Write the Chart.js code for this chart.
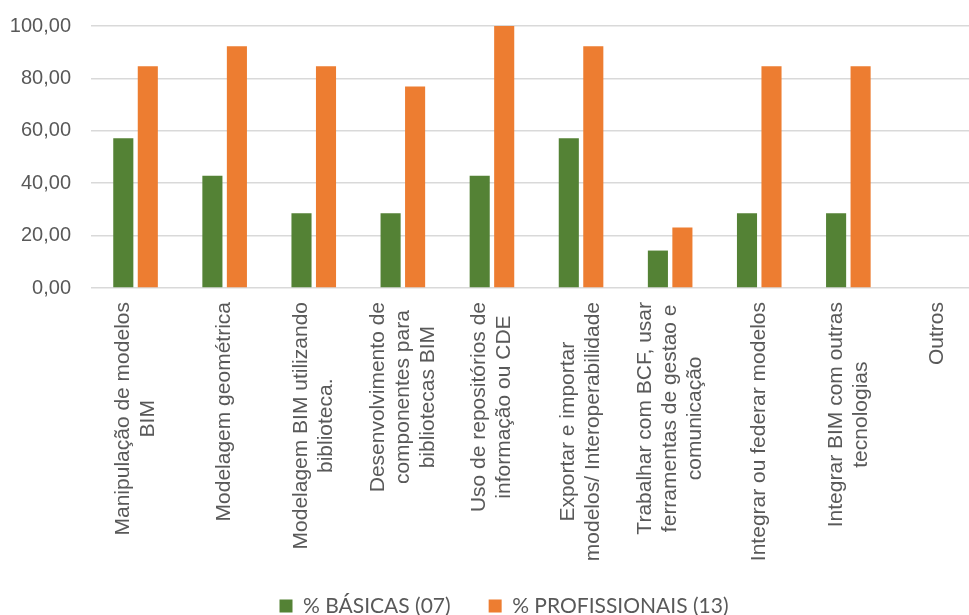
<!DOCTYPE html>
<html>
<head>
<meta charset="utf-8">
<script src="https://cdn.jsdelivr.net/npm/chart.js@4"></script>
<style>
  html, body { margin: 0; padding: 0; background: #fff; overflow: hidden; }
</style>
</head>
<body>
<canvas id="grafico" width="984" height="615"></canvas>
<script>
// competências BIM: cada rótulo quebrado em linhas
const categorias = [
    ['Manipulação de modelos', 'BIM'],
    ['Modelagem geométrica'],
    ['Modelagem BIM utilizando', 'biblioteca.'],
    ['Desenvolvimento de', 'componentes para', 'bibliotecas BIM'],
    ['Uso de repositórios de', 'informação ou CDE'],
    ['Exportar e importar', 'modelos/ Interoperabilidade'],
    ['Trabalhar com BCF, usar', 'ferramentas de gestao e', 'comunicação'],
    ['Integrar ou federar modelos'],
    ['Integrar BIM com outras', 'tecnologias'],
    ['Outros']
];

const basicas = [57.14, 42.86, 28.57, 28.57, 42.86, 57.14, 14.29, 28.57, 28.57, 0];
const profissionais = [84.62, 92.31, 84.62, 76.92, 100, 92.31, 23.08, 84.62, 84.62, 0];

const yTicks = [0, 20, 40, 60, 80, 100];

const corTexto = '#595959';
const fonteEixo = { family: '"Liberation Sans", Arial, sans-serif', size: 20 };
const fonteRotulo = { family: '"Liberation Sans", Arial, sans-serif', size: 21 };
const fonteLegenda = { family: 'Lato, "Liberation Sans", sans-serif', size: 21 };
const alturaLinha = 25;

// rótulos do eixo x girados, com as linhas centralizadas entre si
const rotulosX = {
    id: 'rotulosX',
    afterDraw(chart) {
        const ctx = chart.ctx;
        const x = chart.scales.x;
        const topo = x.top + 14;
        ctx.save();
        ctx.font = fonteRotulo.size + 'px ' + fonteRotulo.family;
        ctx.fillStyle = corTexto;
        ctx.textAlign = 'center';
        ctx.textBaseline = 'middle';
        categorias.forEach((linhas, i) => {
            const px = x.getPixelForTick(i);
            const maxW = Math.max(...linhas.map(l => ctx.measureText(l).width));
            linhas.forEach((linha, j) => {
                const off = (j - (linhas.length - 1) / 2) * alturaLinha;
                ctx.save();
                ctx.translate(px + off, topo);
                ctx.rotate(-Math.PI / 2);
                ctx.fillText(linha, -maxW / 2, 0);
                ctx.restore();
            });
        });
        ctx.restore();
    }
};

// posiciona a legenda embaixo
const ajusteLegenda = {
    id: 'ajusteLegenda',
    afterUpdate(chart) {
        const lg = chart.legend;
        const pad = lg.options.labels.padding;
        const dx = 504 - (lg.left + lg.right) / 2;
        const dy = 606 - (lg.top + pad + fonteLegenda.size / 2);
        lg.left += dx; lg.right += dx;
        lg.top += dy; lg.bottom += dy;
        lg.adjustHitBoxes();
    }
};

new Chart(document.getElementById('grafico'), {
    type: 'bar',
    data: {
        labels: categorias,
        datasets: [
            {
                label: '% BÁSICAS (07)',
                data: basicas,
                backgroundColor: '#548235',
                borderWidth: 0,
                categoryPercentage: 0.55,
                barPercentage: 0.82
            },
            {
                label: '% PROFISSIONAIS (13)',
                data: profissionais,
                backgroundColor: '#ED7D31',
                borderWidth: 0,
                categoryPercentage: 0.55,
                barPercentage: 0.82
            }
        ]
    },
    options: {
        responsive: false,
        animation: false,
        layout: { padding: { top: 26, left: 10, right: 2, bottom: 0 } },
        plugins: {
            tooltip: { enabled: false },
            legend: {
                position: 'bottom',
                labels: {
                    boxWidth: 13,
                    boxHeight: 13,
                    padding: 38,
                    color: corTexto,
                    font: fonteLegenda
                }
            }
        },
        scales: {
            x: {
                grid: { display: false },
                border: { display: false },
                ticks: { display: false },
                afterFit(scale) { scale.height = 258; }
            },
            y: {
                min: 0,
                max: 100,
                afterBuildTicks(scale) {
                    scale.ticks = yTicks.map(v => ({ value: v }));
                },
                grid: { color: '#d9d9d9', lineWidth: 1.5, drawTicks: false },
                border: { display: false },
                ticks: {
                    color: corTexto,
                    font: fonteEixo,
                    padding: 20,
                    callback: v => v.toFixed(2).replace('.', ',')
                },
                afterFit(scale) {
                    scale.width = 81;
                    scale.paddingTop = 0;
                    scale.paddingBottom = 0;
                }
            }
        }
    },
    plugins: [rotulosX, ajusteLegenda]
});
</script>
</body>
</html>
